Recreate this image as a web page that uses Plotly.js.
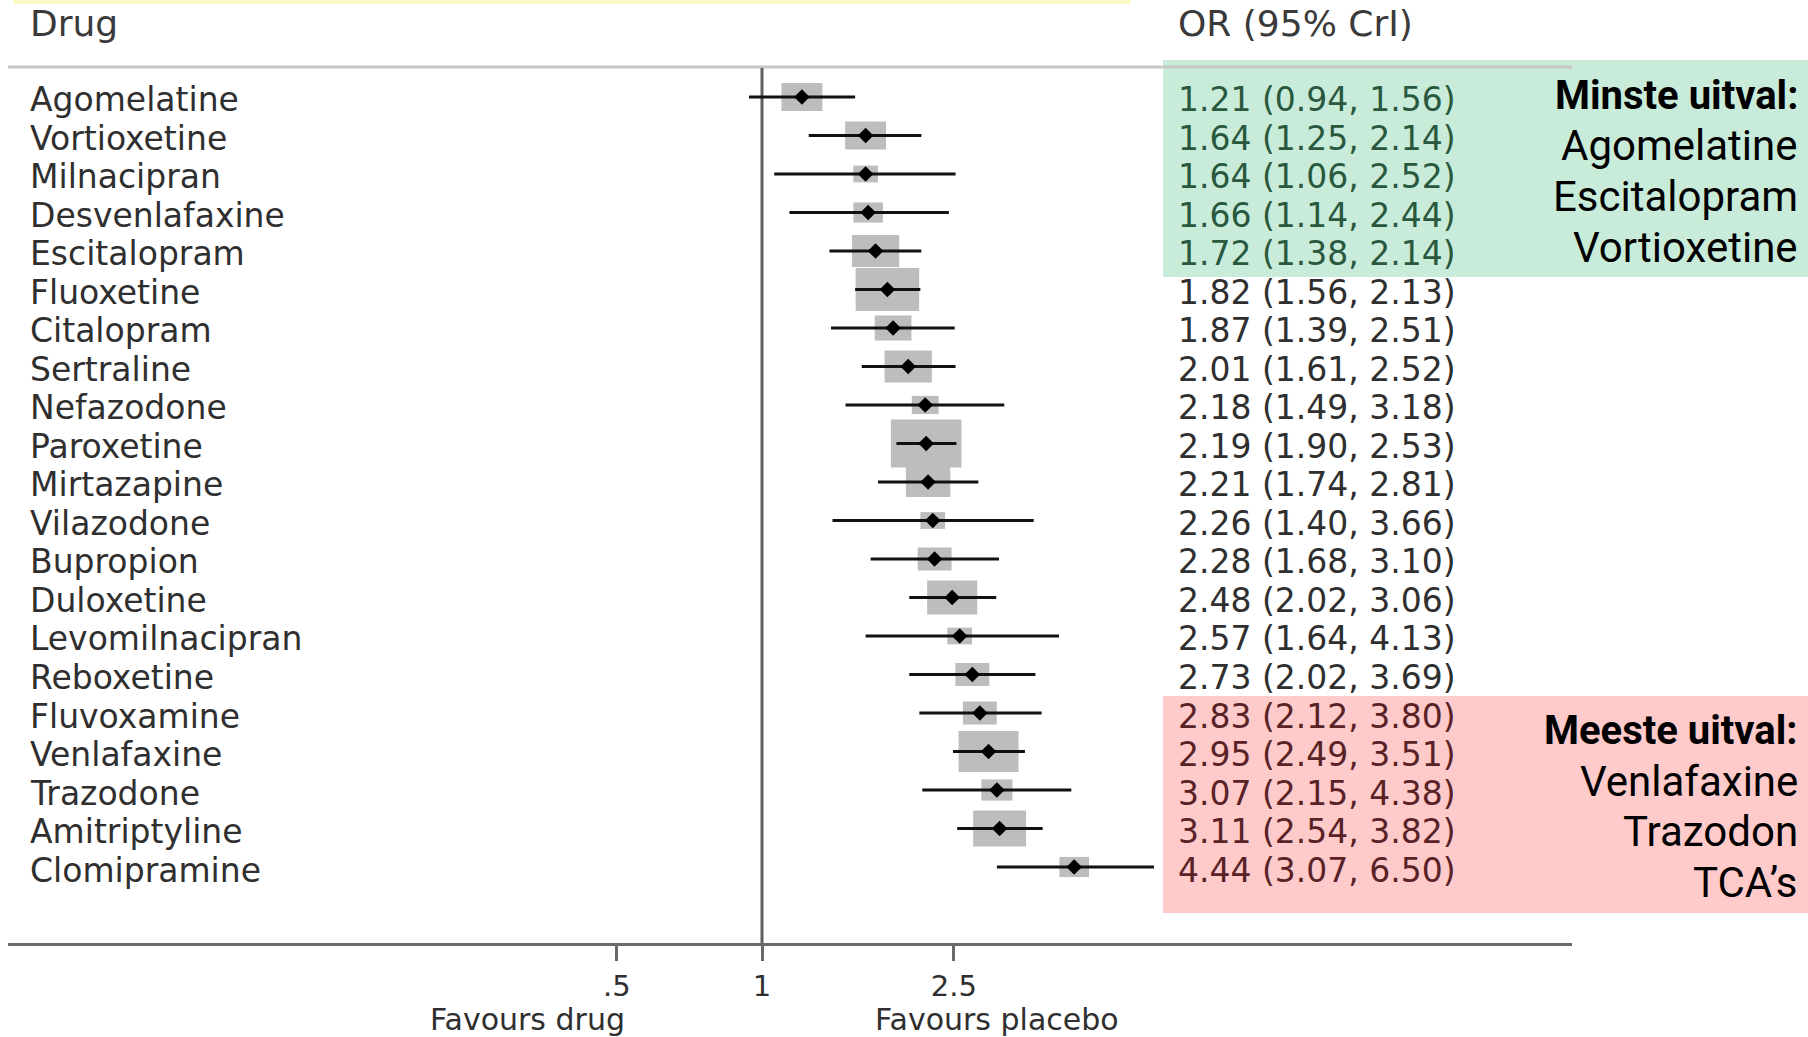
<!DOCTYPE html>
<html>
<head>
<meta charset="utf-8">
<script src="https://cdn.plot.ly/plotly-3.0.1.min.js"></script>
<style>html,body{margin:0;padding:0;background:#fff}#chart{width:1808px;height:1037px}</style>
</head>
<body>
<div id="chart"></div>
<script>
// ---------------- DATA ----------------
const drugs = ["Agomelatine","Vortioxetine","Milnacipran","Desvenlafaxine","Escitalopram","Fluoxetine","Citalopram","Sertraline","Nefazodone","Paroxetine","Mirtazapine","Vilazodone","Bupropion","Duloxetine","Levomilnacipran","Reboxetine","Fluvoxamine","Venlafaxine","Trazodone","Amitriptyline","Clomipramine"];
const oddsRatio = [1.21,1.64,1.64,1.66,1.72,1.82,1.87,2.01,2.18,2.19,2.21,2.26,2.28,2.48,2.57,2.73,2.83,2.95,3.07,3.11,4.44];
const ciLower = [0.94,1.25,1.06,1.14,1.38,1.56,1.39,1.61,1.49,1.90,1.74,1.40,1.68,2.02,1.64,2.02,2.12,2.49,2.15,2.54,3.07];
const ciUpper = [1.56,2.14,2.52,2.44,2.14,2.13,2.51,2.52,3.18,2.53,2.81,3.66,3.10,3.06,4.13,3.69,3.80,3.51,4.38,3.82,6.50];
// relative study weight (box size, largest = 1)
const weight = [0.58,0.58,0.35,0.42,0.67,0.90,0.52,0.67,0.38,1.00,0.63,0.35,0.48,0.71,0.35,0.48,0.48,0.85,0.44,0.75,0.42];
const tickVals = [0.5,1,2.5];
const tickText = [".5","1","2.5"];
const headerDrug = "Drug";
const headerOR = "OR (95% CrI)";
const favourLabels = ["Favours drug","Favours placebo"];
const leastTitle = "Minste uitval:";
const leastList = ["Agomelatine","Escitalopram","Vortioxetine"];
const mostTitle = "Meeste uitval:";
const mostList = ["Venlafaxine","Trazodon","TCA\u2019s"];
const greenRows = [0,1,2,3,4];
const redRows = [16,17,18,19,20];

// ---------------- LAYOUT GEOMETRY ----------------
const W = 1808, H = 1037;
const M = {l: 8, r: 236, t: 0, b: 94};
const plotW = W - M.l - M.r, plotH = H - M.t - M.b;
const xRange = [-1.5637, 1.6798];
const yRange = [21.974, -2.519];
const pxPerLn = plotW / ((xRange[1] - xRange[0]) * Math.LN10);
const pxPerRow = plotH / (yRange[0] - yRange[1]);
const px2x = px => (px - M.l) / plotW;
const px2y = py => 1 - (py - M.t) / plotH;
const BOX_MAX_H = 48, BOX_ASPECT = 1.47;

const rows = drugs.map((d, i) => i);
const boxBase = [], boxLen = [], boxThick = [];
weight.forEach((w, i) => {
  const hpx = w * BOX_MAX_H, wpx = hpx * BOX_ASPECT;
  const half = wpx / 2 / pxPerLn;
  const left = oddsRatio[i] * Math.exp(-half), right = oddsRatio[i] * Math.exp(half);
  boxBase.push(left); boxLen.push(right - left); boxThick.push(hpx / pxPerRow);
});

const FONT = "DejaVu Sans, Verdana, sans-serif";
const ANN_FONT = "Roboto, Open Sans, sans-serif";
const txtGray = "#2f2f2f";

const traces = [
  { type: "scatter", mode: "lines", x: [1, 1], y: [-0.753, yRange[0]],
    line: {color: "#5e5e5e", width: 3}, hoverinfo: "skip", showlegend: false },
  { type: "bar", orientation: "h", y: rows, x: boxLen, base: boxBase, width: boxThick,
    marker: {color: "#bdbdbd", line: {width: 0}}, hoverinfo: "skip", showlegend: false },
  { type: "scatter", mode: "markers", x: oddsRatio, y: rows,
    marker: {symbol: "diamond", size: 12, color: "#000"},
    error_x: {type: "data", symmetric: false,
      array: ciUpper.map((u, i) => u - oddsRatio[i]),
      arrayminus: ciLower.map((l, i) => oddsRatio[i] - l),
      thickness: 3.2, width: 0, color: "#111"},
    hoverinfo: "skip", showlegend: false }
];

const ann = [];
drugs.forEach((d, i) => {
  ann.push({xref: "paper", yref: "y", x: px2x(28), y: i, yshift: -3, xanchor: "left", yanchor: "middle",
    text: d, showarrow: false, font: {family: FONT, size: 33, color: txtGray}});
  let col = txtGray;
  if (greenRows.includes(i)) col = "#2a583f";
  if (redRows.includes(i)) col = "#592226";
  const lab = oddsRatio[i].toFixed(2) + " (" + ciLower[i].toFixed(2) + ", " + ciUpper[i].toFixed(2) + ")";
  ann.push({xref: "paper", yref: "y", x: px2x(1176), y: i, yshift: -3, xanchor: "left", yanchor: "middle",
    text: lab, showarrow: false, font: {family: FONT, size: 33, color: col}});
});
ann.push({xref: "paper", yref: "paper", x: px2x(28), y: px2y(24), xanchor: "left", yanchor: "middle",
  text: headerDrug, showarrow: false, font: {family: FONT, size: 36, color: "#3a3a3a"}});
ann.push({xref: "paper", yref: "paper", x: px2x(1176), y: px2y(24), xanchor: "left", yanchor: "middle",
  text: headerOR, showarrow: false, font: {family: FONT, size: 36, color: "#3a3a3a"}});
ann.push({xref: "paper", yref: "paper", x: px2x(527), y: px2y(1019), xanchor: "center", yanchor: "middle",
  text: favourLabels[0], showarrow: false, font: {family: FONT, size: 30, color: "#2f2f2f"}});
ann.push({xref: "paper", yref: "paper", x: px2x(997), y: px2y(1019), xanchor: "center", yanchor: "middle",
  text: favourLabels[1], showarrow: false, font: {family: FONT, size: 30, color: "#2f2f2f"}});

const RX = px2x(1800);
ann.push({xref: "paper", yref: "paper", x: RX, y: px2y(95), xanchor: "right", yanchor: "middle",
  text: "<b>" + leastTitle + "</b>", showarrow: false, font: {family: ANN_FONT, size: 40, color: "#000"}});
leastList.forEach((t, k) => ann.push({xref: "paper", yref: "paper", x: RX, y: px2y(146 + 50.5 * k),
  xanchor: "right", yanchor: "middle", text: t, showarrow: false, font: {family: ANN_FONT, size: 42, color: "#000"}}));
ann.push({xref: "paper", yref: "paper", x: RX, y: px2y(730), xanchor: "right", yanchor: "middle",
  text: "<b>" + mostTitle + "</b>", showarrow: false, font: {family: ANN_FONT, size: 40, color: "#000"}});
mostList.forEach((t, k) => ann.push({xref: "paper", yref: "paper", x: RX, y: px2y(781 + 50.7 * k),
  xanchor: "right", yanchor: "middle", text: t, showarrow: false, font: {family: ANN_FONT, size: 42, color: "#000"}}));

const shapes = [
  {type: "rect", xref: "paper", yref: "paper", x0: px2x(13), x1: px2x(1131), y0: px2y(4), y1: px2y(0),
    fillcolor: "#fdf8c8", line: {width: 0}, layer: "below"},
  {type: "rect", xref: "paper", yref: "paper", x0: px2x(1163), x1: px2x(1808), y0: px2y(277), y1: px2y(60),
    fillcolor: "#c8ecd9", line: {width: 0}, layer: "below"},
  {type: "rect", xref: "paper", yref: "paper", x0: px2x(1163), x1: px2x(1808), y0: px2y(913), y1: px2y(696),
    fillcolor: "#ffcaca", line: {width: 0}, layer: "below"},
  {type: "line", xref: "paper", yref: "paper", x0: px2x(8), x1: px2x(1572), y0: px2y(67), y1: px2y(67),
    line: {color: "#c8c8c8", width: 3}, layer: "below"}
];

const layout = {
  width: W, height: H, margin: M,
  paper_bgcolor: "#fff", plot_bgcolor: "rgba(0,0,0,0)",
  showlegend: false, hovermode: false, barmode: "overlay",
  xaxis: {type: "log", range: xRange, fixedrange: true, showgrid: false, zeroline: false,
    showline: true, linecolor: "#6a6a6a", linewidth: 3,
    ticks: "outside", ticklen: 15, tickwidth: 3, tickcolor: "#6a6a6a",
    tickvals: tickVals, ticktext: tickText, ticklabelstandoff: 0,
    tickfont: {family: FONT, size: 29, color: "#2f2f2f"}},
  yaxis: {range: yRange, fixedrange: true, showgrid: false, zeroline: false, showline: false,
    showticklabels: false, ticks: ""},
  annotations: ann, shapes: shapes
};

Plotly.newPlot("chart", traces, layout, {staticPlot: true, displayModeBar: false});
</script>
</body>
</html>
